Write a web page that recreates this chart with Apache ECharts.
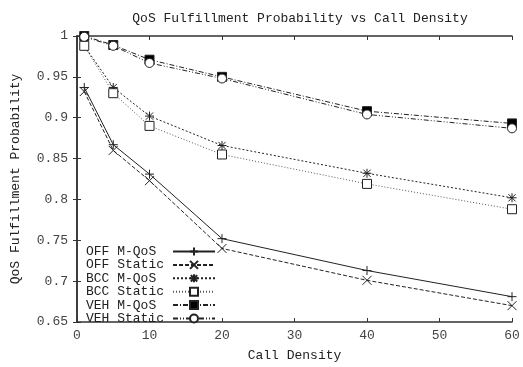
<!DOCTYPE html>
<html>
<head>
<meta charset="utf-8">
<script src="https://cdn.jsdelivr.net/npm/echarts@6/dist/echarts.min.js"></script>
<style>
	html, body { margin: 0; padding: 0; background: #fff; }
	#chart { width: 523px; height: 367px; }
</style>
</head>
<body>
<div id="chart"></div>
<script>
// call density sample points
const density = [1, 5, 10, 20, 40, 60];

const offMQoS   = [0.937, 0.867, 0.831, 0.752, 0.713, 0.681];
const offStatic = [0.932, 0.860, 0.823, 0.740, 0.701, 0.670];
const bccMQoS   = [0.988, 0.937, 0.902, 0.866, 0.832, 0.802];
const bccStatic = [0.988, 0.930, 0.890, 0.855, 0.819, 0.788];
const vehMQoS   = [1.000, 0.989, 0.971, 0.950, 0.908, 0.893];
const vehStatic = [0.999, 0.988, 0.967, 0.948, 0.904, 0.887];

const font = 'Liberation Mono';
const ink = '#222';

// gnuplot style point shapes
const PLUS = 'path://M5 0L5 10M0 5L10 5';
const CROSS = 'path://M0 0L10 10M10 0L0 10';
const STAR = 'path://M5 0L5 10M0 5L10 5M1 1L9 9M9 1L1 9';

const pair = (ys) => density.map((x, i) => [x, ys[i]]);

const mkSeries = (name, ys, dash, symbol, fill, lineColor) => ({
	name: name,
	type: 'line',
	data: pair(ys),
	symbol: symbol,
	symbolSize: 9,
	showSymbol: true,
	animation: false,
	z: 3,
	lineStyle: { color: lineColor || ink, width: 1, type: dash },
	itemStyle: { color: fill, borderColor: ink, borderWidth: 1 },
	emphasis: { disabled: true }
});

const series = [
	mkSeries('OFF M-QoS', offMQoS, 'solid', PLUS, 'none'),
	mkSeries('OFF Static', offStatic, [4, 2], CROSS, 'none'),
	mkSeries('BCC M-QoS', bccMQoS, [2, 2], STAR, 'none'),
	mkSeries('BCC Static', bccStatic, [1, 2], 'rect', '#fff', '#555'),
	mkSeries('VEH M-QoS', vehMQoS, [5, 2, 1, 2], 'rect', '#000'),
	mkSeries('VEH Static', vehStatic, [5, 2, 1, 2, 1, 2], 'circle', '#fff')
];

const chart = echarts.init(document.getElementById('chart'));

const axisLine = { show: true, lineStyle: { color: '#333', width: 1.5 } };
const tick = { show: true, inside: true, length: 4, lineStyle: { color: '#333' } };

chart.setOption({
	backgroundColor: '#fff',
	animation: false,
	title: {
		text: 'QoS Fulfillment Probability vs Call Density',
		left: 295,
		textAlign: 'center',
		top: 7,
		textStyle: { fontFamily: font, fontSize: 13, fontWeight: 'normal', color: ink }
	},
	grid: { left: 77, right: 11, top: 36, bottom: 39 },
	legend: {
		orient: 'vertical',
		left: 86,
		top: 245,
		align: 'right',
		itemWidth: 42,
		itemHeight: 10,
		itemGap: 0.4,
		padding: 0,
		data: series.map(s => s.name),
		// key text sits left, so pad the labels to one width (monospace)
		formatter: (name) => name.padEnd(10, '\u00a0'),
		textStyle: { fontFamily: font, fontSize: 13, color: ink, lineHeight: 12, padding: [0, 4, 0, 0] }
	},
	xAxis: [{
		type: 'value',
		min: 0,
		max: 60,
		interval: 10,
		name: 'Call Density',
		nameLocation: 'middle',
		nameGap: 27,
		nameTextStyle: { fontFamily: font, fontSize: 13, color: ink },
		axisLine: axisLine,
		axisTick: tick,
		axisLabel: { fontFamily: font, fontSize: 13, color: '#444', margin: 7 },
		splitLine: { show: false }
	}, {
		type: 'value',
		position: 'top',
		min: 0,
		max: 60,
		interval: 10,
		axisLine: axisLine,
		axisTick: tick,
		axisLabel: { show: false },
		splitLine: { show: false }
	}],
	yAxis: [{
		type: 'value',
		min: 0.65,
		max: 1,
		interval: 0.05,
		name: 'QoS Fulfillment Probability',
		nameLocation: 'middle',
		nameGap: 55,
		nameTextStyle: { fontFamily: font, fontSize: 13, color: ink },
		axisLine: axisLine,
		axisTick: tick,
		axisLabel: { fontFamily: font, fontSize: 13, color: '#444', margin: 9 },
		splitLine: { show: false }
	}, {
		type: 'value',
		position: 'right',
		min: 0.65,
		max: 1,
		interval: 0.05,
		axisLine: axisLine,
		axisTick: tick,
		axisLabel: { show: false },
		splitLine: { show: false }
	}],
	series: series
});
</script>
</body>
</html>
